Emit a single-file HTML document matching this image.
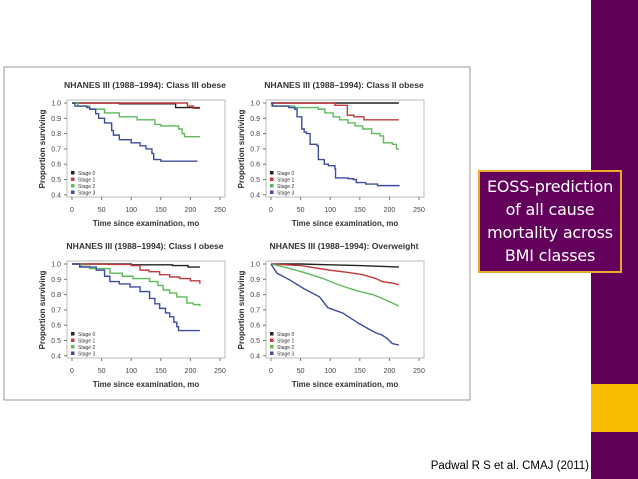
<!DOCTYPE html>
<html><head><meta charset="utf-8"><style>
html,body{margin:0;padding:0;background:#fff;width:638px;height:479px;overflow:hidden;position:relative;font-family:"Liberation Sans",sans-serif}
#bar{position:absolute;left:591px;top:0;width:47px;height:479px;background:#5f0058}
#yel{position:absolute;left:591px;top:384px;width:47px;height:48px;background:#fbbd00}
#box{position:absolute;left:478px;top:170px;width:140px;height:96px;border:2px solid #f0a82c;background:#62005c;color:#fff;font-family:"DejaVu Sans","Liberation Sans",sans-serif;font-size:16px;line-height:23px;text-align:center;padding-top:3px;box-sizing:content-box;white-space:nowrap;letter-spacing:-0.2px}
#cite{position:absolute;right:49px;top:460px;font-size:11.5px;color:#000}
svg{position:absolute;left:0;top:0}
</style></head><body>
<div id="bar"></div>
<div id="yel"></div>
<svg id="fig" width="638" height="479"></svg>
<div id="box">EOSS-prediction<br>of all cause<br>mortality across<br>BMI classes</div>
<div id="cite">Padwal R S et al. CMAJ (2011)</div>
<script>
const panelTitles=["NHANES III (1988–1994): Class III obese","NHANES III (1988–1994): Class II obese","NHANES III (1988–1994): Class I obese","NHANES III (1988–1994): Overweight"];
const stageNames=["Stage 0","Stage 1","Stage 2","Stage 3"];
const xTicks=[0,50,100,150,200,250];
const yTicks=[1.0,0.9,0.8,0.7,0.6,0.5,0.4];
// series: [month, survival] step points
const p1s0=[[0,1],[80,0.995],[175,0.97],[216,0.97]];
const p1s1=[[0,1],[195,0.98],[205,0.965],[216,0.965]];
const p1s2=[[0,1],[10,0.98],[30,0.96],[55,0.935],[80,0.91],[110,0.89],[140,0.86],[150,0.85],[180,0.83],[186,0.8],[190,0.78],[216,0.78]];
const p1s3=[[0,1],[5,0.98],[25,0.97],[30,0.96],[40,0.93],[45,0.9],[55,0.87],[67,0.82],[70,0.79],[80,0.76],[100,0.74],[115,0.72],[125,0.7],[135,0.67],[138,0.63],[150,0.62],[212,0.62]];
const p2s0=[[0,1],[216,1]];
const p2s1=[[0,1],[108,0.985],[129,0.92],[140,0.91],[157,0.89],[216,0.89]];
const p2s2=[[0,1],[1,0.98],[40,0.97],[80,0.96],[91,0.935],[105,0.91],[116,0.89],[130,0.87],[142,0.85],[155,0.83],[170,0.8],[184,0.785],[190,0.74],[205,0.73],[212,0.7],[216,0.7]];
const p2s3=[[0,1],[3,0.98],[30,0.97],[40,0.96],[44,0.91],[52,0.83],[56,0.81],[60,0.8],[66,0.73],[78,0.72],[80,0.63],[90,0.6],[97,0.59],[108,0.57],[109,0.51],[130,0.505],[139,0.5],[144,0.48],[160,0.47],[180,0.46],[216,0.455]];
const p3s0=[[0,1],[100,0.995],[170,0.99],[196,0.98],[216,0.98]];
const p3s1=[[0,1],[60,0.997],[100,0.99],[115,0.96],[130,0.95],[148,0.93],[165,0.915],[182,0.905],[200,0.89],[216,0.87]];
const p3s2=[[0,1],[15,0.985],[30,0.97],[64,0.94],[85,0.92],[103,0.905],[131,0.885],[145,0.86],[154,0.83],[165,0.81],[177,0.785],[194,0.745],[205,0.735],[216,0.725]];
const p3s3=[[0,1],[13,0.98],[41,0.96],[55,0.92],[64,0.885],[80,0.87],[98,0.85],[115,0.82],[131,0.775],[140,0.74],[148,0.71],[158,0.68],[165,0.655],[172,0.62],[177,0.59],[180,0.565],[216,0.565]];
const p4s0=[[0,1],[50,1],[100,0.995],[150,0.99],[216,0.98]];
const p4s1=[[0,1],[50,0.99],[99,0.96],[130,0.945],[155,0.93],[177,0.905],[188,0.885],[205,0.875],[216,0.865]];
const p4s2=[[0,1],[32,0.97],[60,0.94],[88,0.905],[110,0.87],[133,0.84],[150,0.82],[172,0.8],[194,0.765],[205,0.745],[216,0.725]];
const p4s3=[[0,1],[10,0.94],[32,0.895],[55,0.84],[82,0.785],[96,0.715],[110,0.695],[121,0.68],[135,0.645],[149,0.61],[165,0.575],[177,0.55],[188,0.535],[197,0.51],[205,0.48],[216,0.47]];
const panelSeries=[[p1s0,p1s1,p1s2,p1s3],[p2s0,p2s1,p2s2,p2s3],[p3s0,p3s1,p3s2,p3s3],[p4s0,p4s1,p4s2,p4s3]];
const smoothPanels=[false,false,false,true];
const colors=["#222222","#c23a3e","#5dba5a","#3d4d9e"];
const origins=[[72,103],[271,103],[72,264],[271,264]];
const NS="http://www.w3.org/2000/svg";
const svg=document.getElementById('fig');
function mk(tag,attrs,parent){const e=document.createElementNS(NS,tag);for(const k in attrs)e.setAttribute(k,attrs[k]);(parent||svg).appendChild(e);return e;}
const frame=mk('rect',{x:4,y:67,width:466,height:333,fill:'none',stroke:'#9a9a9a','stroke-width':1});


panelTitles.forEach((title,pi)=>{
  const [ox,oy]=origins[pi];
  const xs=m=>ox+m*148/250;
  const ys=v=>oy+(1-v)*153;
  const g=mk('g',{});
  
  
  const box=mk('rect',{x:ox-5,y:oy-3,width:158,height:97,fill:'#fff',stroke:'#bbb','stroke-width':1},g);
  
  
  const t=mk('text',{x:ox+73,y:oy-15,'text-anchor':'middle','font-size':8.6,'font-weight':'bold',fill:'#333'},g);t.textContent=title;
  
  
  yTicks.forEach(v=>{
    mk('line',{x1:ox-8,x2:ox-5,y1:ys(v),y2:ys(v),stroke:'#777'},g);
    const l=mk('text',{x:ox-11,y:ys(v)+2.5,'text-anchor':'end','font-size':7,fill:'#444'},g);l.textContent=v.toFixed(1);
    
    
  });
  xTicks.forEach(v=>{
    mk('line',{x1:xs(v),x2:xs(v),y1:oy+94,y2:oy+97,stroke:'#777'},g);
    const l=mk('text',{x:xs(v),y:oy+109,'text-anchor':'middle','font-size':7,fill:'#444'},g);l.textContent=v;
    
    
  });
  const xl=mk('text',{x:ox+74,y:oy+123,'text-anchor':'middle','font-size':8,'font-weight':'bold',fill:'#333'},g);xl.textContent='Time since examination, mo';
  
  
  const yl=mk('text',{x:0,y:0,'text-anchor':'middle','font-size':8,'font-weight':'bold',fill:'#333',transform:`translate(${ox-27},${oy+46}) rotate(-90)`},g);yl.textContent='Proportion surviving';
  
  
  panelSeries[pi].forEach((pts,si)=>{
    let d='';
    pts.forEach((p,i)=>{
      if(i===0) d+=`M${xs(p[0])},${ys(p[1])}`;
      else if(smoothPanels[pi]) d+=`L${xs(p[0])},${ys(p[1])}`;
      else d+=`H${xs(p[0])}V${ys(p[1])}`;
    });
    const path=mk('path',{d:d,fill:'none',stroke:colors[si],'stroke-width':1.4},g);
    
    
  });
  stageNames.forEach((n,si)=>{
    const yy=oy+70+si*6.5;
    const sq=mk('rect',{x:ox-1,y:yy-2,width:3.5,height:3.5,fill:colors[si]},g);
    
    
    const lt=mk('text',{x:ox+6,y:yy+1.8,'font-size':5,fill:'#333'},g);lt.textContent=n;
    
    
  });
});
</script>
</body></html>
